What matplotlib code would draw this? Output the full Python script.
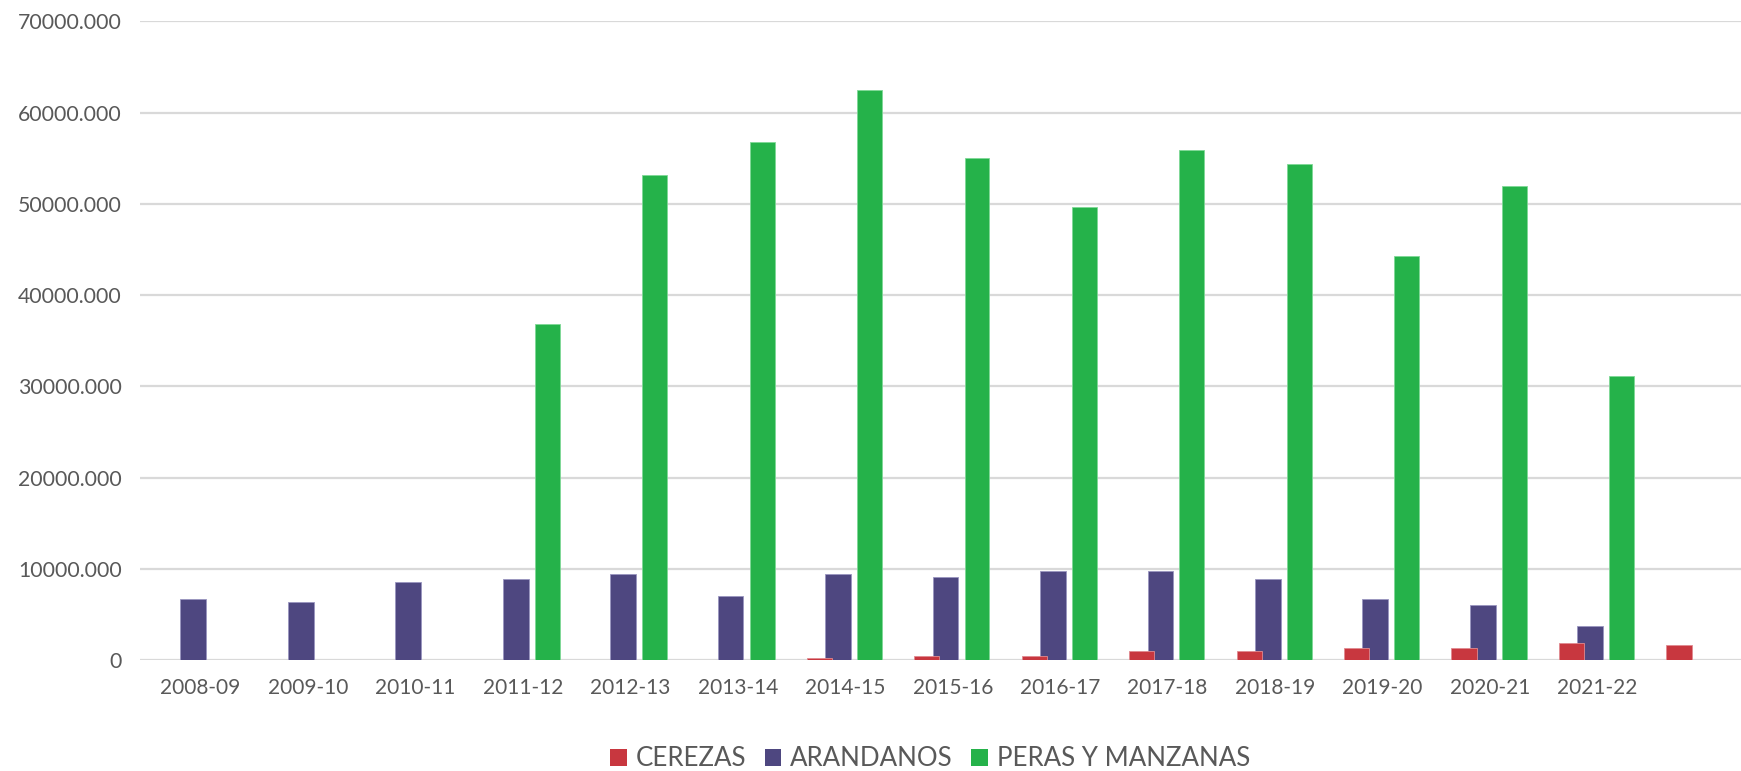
import numpy as np
import matplotlib
matplotlib.use("Agg")
import matplotlib.pyplot as plt

plt.rcParams['font.family'] = ['Lato', 'DejaVu Sans']

categories = ['2008-09', '2009-10', '2010-11', '2011-12', '2012-13', '2013-14', '2014-15',
              '2015-16', '2016-17', '2017-18', '2018-19', '2019-20', '2020-21', '2021-22', '']
cerezas = [None, None, None, None, None, None, 260, 400, 400, 1000, 1000, 1290, 1290, 1860, 1590]
arandanos = [6700, 6350, 8520, 8850, 9390, 6980, 9390, 9060, 9740, 9740, 8850, 6710, 6080, 3690, None]
peras = [None, None, None, 36800, 53200, 56750, 62450, 55000, 49650, 55860, 54400, 44300, 51970, 31150, None]
series_names = ['CEREZAS', 'ARANDANOS', 'PERAS Y MANZANAS']
colors = ['#C8373F', '#4E4780', '#25B24A']
edge_colors = ['#E08A90', '#9A95C0', '#7FD896']
yticks = [0, 10000, 20000, 30000, 40000, 50000, 60000, 70000]

def arr(v):
    return np.array([np.nan if x is None else x for x in v], dtype=float)

W, H = 1741, 771
fig = plt.figure(figsize=(W / 100, H / 100), dpi=100)
ax = fig.add_axes([140 / W, 1 - 660 / H, (W - 140) / W, (660 - 21.3) / H])

x = np.arange(len(categories))
offsets = [-0.241, -0.067, 0.226]
widths = [0.235, 0.24, 0.232]
zorders = [4, 3, 3]
data = [arr(cerezas), arr(arandanos), arr(peras)]
handles = []
for d, off, w, c, ec, name, z in zip(data, offsets, widths, colors, edge_colors, series_names, zorders):
    b = ax.bar(x + off, d, width=w, color=c, edgecolor=ec, linewidth=0.6, label=name, zorder=z)
    handles.append(b)

ax.set_xlim(-0.563, 14.336)
ax.set_ylim(0, 70000)
ax.set_yticks(yticks)
ax.set_yticklabels(['0' if v == 0 else f'{v}.000' for v in yticks])
ax.set_xticks(x)
ax.set_xticklabels(categories)

ax.yaxis.grid(True, color='#D9D9D9', linewidth=1.6)
ax.set_axisbelow(True)
for s in ax.spines.values():
    s.set_visible(False)
ax.tick_params(axis='y', length=0, pad=13, labelsize=15.3, labelcolor='#595959')
ax.tick_params(axis='x', length=0, pad=13, labelsize=15, labelcolor='#595959')

leg = fig.legend(handles=handles, labels=series_names, loc='center',
                 bbox_to_anchor=(930 / W, 1 - 759 / H), ncol=3, frameon=False,
                 fontsize=18.6, handlelength=0.64, handleheight=0.64,
                 handletextpad=0.34, columnspacing=0.72, borderpad=0, borderaxespad=0)
for t in leg.get_texts():
    t.set_color('#595959')
for h in leg.legend_handles:
    h.set_linewidth(0)

fig.savefig('out.png', dpi=100)
